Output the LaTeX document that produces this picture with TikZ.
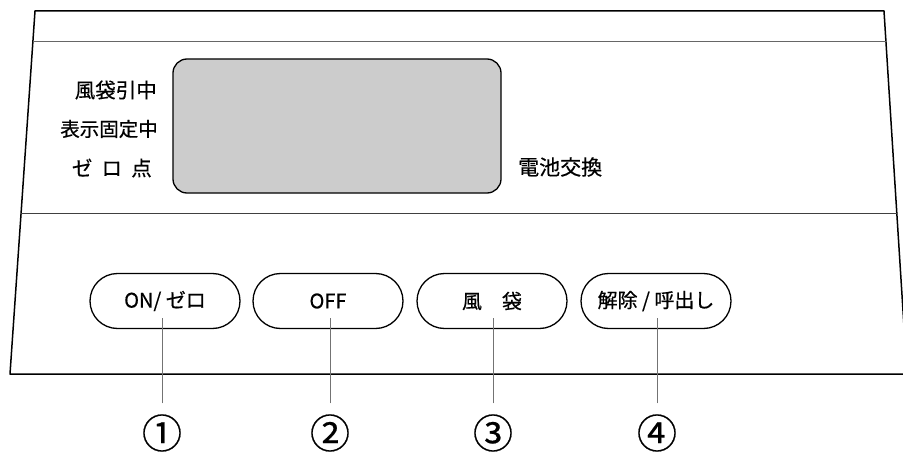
\documentclass[tikz,border=0pt]{standalone}
\usepackage{fontspec}
\setmainfont[FakeBold=0.5]{Noto Sans CJK JP}
\usetikzlibrary{positioning,shapes.misc}

\begin{document}
\begin{tikzpicture}[x=1pt,y=-1pt,
    every node/.style={inner sep=0pt},
    btn/.style={draw,rounded rectangle,minimum width=150pt,minimum height=55pt,
      line width=1.3pt,font=\fontsize{20}{24}\selectfont},
    lbl/.style={anchor=east,font=\fontsize{20.5}{24}\selectfont},
    lead/.style={draw=black!55,line width=0.9pt},
    num/.style={outer sep=11pt,font=\fontsize{40}{44}\selectfont}]
    \useasboundingbox (0,0) rectangle (903,452);
    \clip (0,0) rectangle (903,452);
    % case
    \draw[line width=1.5pt,line join=round] (35,11) -- (884,11) -- (907,374) -- (10,374) -- cycle;
    \draw[black!60,line width=1pt] (32.9,42) -- (886,42);
    \draw[black!75,line width=1pt] (21.1,213) -- (896.8,213);
    % display
    \node[draw,fill=black!20,rounded corners=14pt,line width=1.3pt,
      minimum width=328pt,minimum height=134pt] (disp) at (337,126) {};
    \node[lbl] (tare) at (157,90) {風袋引中};
    \node[lbl,font=\fontsize{19.5}{24}\selectfont] (hold) at (158,129) {表示固定中};
    \node[lbl] (zero) at (152,168) {ゼ\hspace{0.45em}ロ\hspace{0.45em}点};
    \node[anchor=west,font=\fontsize{21}{24}\selectfont] (batt) at (518,167) {電池交換};
    % keys
    \node[btn] (b1) at (165,301) {ON/ ゼロ};
    \node[btn] (b2) at (328,301) {OFF};
    \node[btn] (b3) at (492,301) {風　袋};
    \node[btn] (b4) at (656,301) {解除 / 呼出し};
    \node[num] (n1) at (162,433) {①};
    \node[num] (n2) at (330,433) {②};
    \node[num] (n3) at (493,433) {③};
    \node[num] (n4) at (657,433) {④};
    \draw[lead] (n1.north) -- ([yshift=-17pt]n1.north |- b1.center);
    \draw[lead] (n2.north) -- ([yshift=-17pt]n2.north |- b2.center);
    \draw[lead] (n3.north) -- ([yshift=-17pt]n3.north |- b3.center);
    \draw[lead] (n4.north) -- ([yshift=-17pt]n4.north |- b4.center);
\end{tikzpicture}
\end{document}
